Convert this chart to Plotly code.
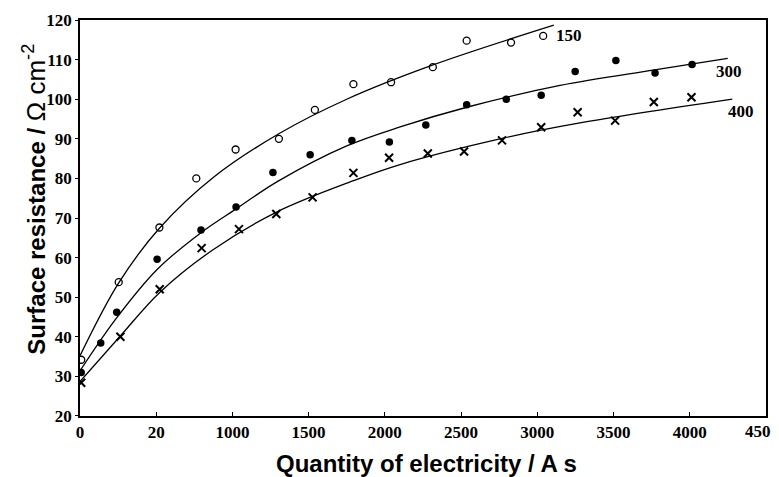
import plotly.graph_objects as go

# ---- data ----
x150 = [8, 254, 521, 763, 1021, 1305, 1541, 1794, 2041, 2315, 2537, 2828, 3039]
y150 = [34.2, 53.8, 67.6, 80.0, 87.3, 90.0, 97.3, 103.8, 104.3, 108.1, 114.8, 114.3, 116.0]

x300 = [8, 136, 241, 506, 794, 1024, 1266, 1510, 1784, 2030, 2269, 2537, 2797, 3026, 3249, 3516, 3773, 4016]
y300 = [31.0, 38.4, 46.2, 59.6, 67.0, 72.8, 81.5, 86.0, 89.6, 89.2, 93.5, 98.6, 100.0, 101.0, 107.0, 109.8, 106.6, 108.8]

x400 = [8, 265, 523, 798, 1043, 1288, 1526, 1794, 2028, 2282, 2520, 2769, 3026, 3265, 3511, 3765, 4012]
y400 = [28.4, 40.0, 52.0, 62.4, 67.2, 71.0, 75.2, 81.4, 85.2, 86.3, 86.8, 89.6, 92.9, 96.7, 94.6, 99.3, 100.5]

# fitted curves
cx150 = [0, 254, 521, 880, 1310, 1750, 2312, 3109]
cy150 = [35.2, 53.6, 67.4, 80.4, 91.4, 100.0, 108.6, 118.7]

cx300 = [0, 239, 506, 794, 1024, 1300, 1750, 2100, 2550, 3150, 3770, 4250]
cy300 = [31.4, 44.7, 57.0, 66.3, 72.3, 79.3, 88.2, 93.0, 98.1, 103.5, 107.4, 110.3]

cx400 = [0, 260, 523, 873, 1290, 1800, 2100, 2770, 3280, 4280]
cy400 = [28.7, 40.0, 51.2, 62.0, 71.5, 79.5, 83.5, 90.1, 94.0, 100.0]

xtick_vals = [0, 500, 1000, 1500, 2000, 2500, 3000, 3500, 4000, 4500]
xtick_text = ["0", "20", "1000", "1500", "2000", "2500", "3000", "3500", "4000", "4500"]
ytick_vals = [20, 30, 40, 50, 60, 70, 80, 90, 100, 110, 120]

curve_labels = [("150", 3110, 116.2), ("300", 4158, 106.9), ("400", 4241, 96.8)]

fig = go.Figure()
line_style = dict(color="black", width=1.3, shape="spline", smoothing=1.0)
for cx, cy in [(cx150, cy150), (cx300, cy300), (cx400, cy400)]:
    fig.add_trace(go.Scatter(x=cx, y=cy, mode="lines", line=line_style,
                             showlegend=False, hoverinfo="skip"))

fig.add_trace(go.Scatter(x=x150, y=y150, mode="markers", showlegend=False,
                         marker=dict(symbol="circle-open", size=7, color="black",
                                     line=dict(width=1.3, color="black"))))
fig.add_trace(go.Scatter(x=x300, y=y300, mode="markers", showlegend=False,
                         marker=dict(symbol="circle", size=7.5, color="black")))
fig.add_trace(go.Scatter(x=x400, y=y400, mode="markers", showlegend=False,
                         marker=dict(symbol="x-thin", size=8, color="black",
                                     line=dict(width=2, color="black"))))

for txt, ax, ay in curve_labels:
    fig.add_annotation(x=ax, y=ay, text="<b>" + txt + "</b>", showarrow=False,
                       xanchor="left", yanchor="middle",
                       font=dict(family="Liberation Serif", size=17, color="black"))

tickfont = dict(family="Liberation Serif", size=17, color="black")

# last x tick label sits at the page edge: drawn as an annotation nudged left
axis_ticktext = ["<b>%s</b>" % t for t in xtick_text[:-1]] + [""]
fig.add_annotation(x=xtick_vals[-1], xref="x", yref="paper", y=-0.0404,
                   text="<b>%s</b>" % xtick_text[-1], showarrow=False,
                   xanchor="center", yanchor="middle", xshift=-4, font=tickfont)

# axis titles
fig.add_annotation(xref="paper", yref="paper", x=0.505, y=-0.1187,
                   text="<b>Quantity of electricity / A s</b>", showarrow=False,
                   xanchor="center", yanchor="middle",
                   font=dict(family="Liberation Sans", size=24, color="black"))
fig.add_annotation(xref="paper", yref="paper", x=-0.066, y=0.548, textangle=-90,
                   text="<b>Surface resistance / </b><span style='font-size:26px'>Ω cm<sup>-2</sup></span>",
                   showarrow=False, xanchor="center", yanchor="middle",
                   font=dict(family="Liberation Sans", size=24, color="black"))

# the page body adds an 8px offset, so the figure is drawn 8px smaller
fig.update_layout(
    width=771, height=469,
    margin=dict(l=72, r=13, t=12, b=61),
    paper_bgcolor="white", plot_bgcolor="white",
    xaxis=dict(range=[0, 4501], tickvals=xtick_vals, ticktext=axis_ticktext,
               tickfont=tickfont, ticks="inside", ticklen=4, tickcolor="black",
               showline=True, linecolor="black", linewidth=1.5, mirror=True,
               showgrid=False, zeroline=False, automargin=False),
    yaxis=dict(range=[19.99, 120.01], tickvals=ytick_vals, ticktext=["<b>%d</b>" % v for v in ytick_vals],
               tickfont=tickfont, ticks="outside", ticklen=3, tickcolor="black",
               ticklabeloverflow="allow",
               showline=True, linecolor="black", linewidth=1.5, mirror=True,
               showgrid=False, zeroline=False, automargin=False),
)

fig.write_html("out.html")
